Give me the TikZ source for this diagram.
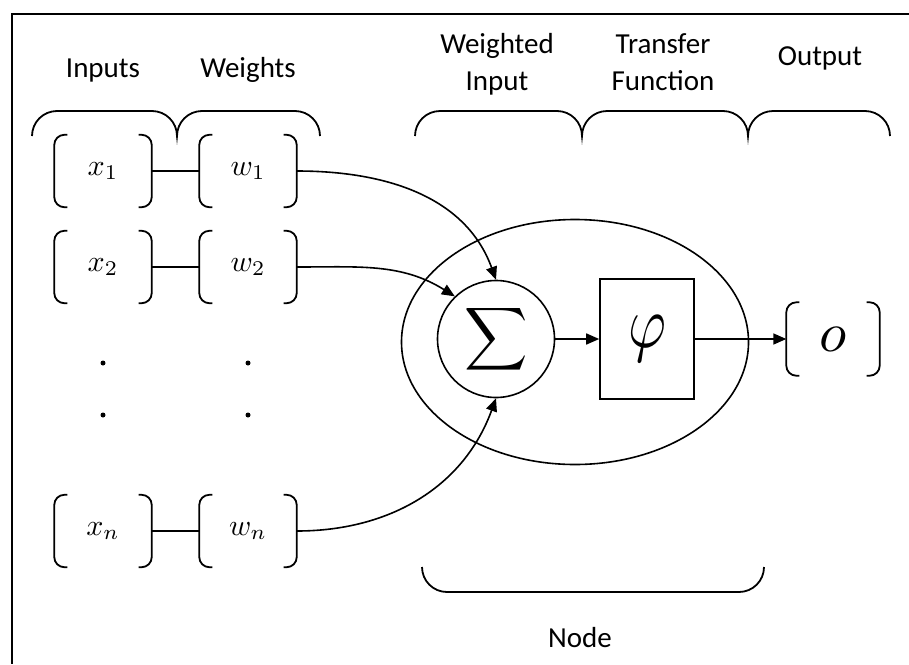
\documentclass[tikz,border=0pt]{standalone}
\usepackage{fontspec}
\setmainfont{Carlito}
\usetikzlibrary{shapes.geometric,arrows.meta}

\tikzset{
  lbl/.style={font=\fontsize{29}{37}\selectfont, align=center, anchor=base, inner sep=0pt},
  var/.style={minimum width=97pt, minimum height=72pt, inner sep=0pt, font=\normalsize},
  brk/.style={line width=1.8pt, rounded corners=10pt},
  brace/.style={line width=1.8pt},
  wire/.style={line width=1.6pt},
  arr/.style={line width=1.6pt, -{Triangle[length=13pt,width=11pt]}},
  dot/.style={circle, fill, inner sep=0pt, minimum size=5pt},
  unit/.style={draw, line width=1.6pt, inner sep=0pt, font=\normalsize},
}

% enlarged math symbol
\newcommand\mathbig[2][3]{\scalebox{#1}{$#2$}}

% a pair of round-cornered brackets around a node
\newcommand\bracketpair[1]{%
  \draw[brk] ([xshift=13pt]#1.north west) -- (#1.north west) -- (#1.south west) -- ([xshift=13pt]#1.south west);
  \draw[brk] ([xshift=-13pt]#1.north east) -- (#1.north east) -- (#1.south east) -- ([xshift=-13pt]#1.south east);
}

\begin{document}
\begin{tikzpicture}[x=1pt, y=1pt]
\useasboundingbox (0,0) rectangle (909,-664);

% frame
\draw[line width=2.2pt] (909,-14) -- (12,-14) -- (12,-664);

% column labels (two-line labels sit on the baseline of their last line)
\node[lbl] (linputs) at (103,-77) {Inputs};
\node[lbl] (lweights) at (248,-77) {Weights};
\node[lbl] (lwin) at (497,-90) {Weighted\\Input};
\node[lbl] (ltf) at (663,-90) {Transfer\\Function};
\node[lbl] (lout) at (820,-65) {Output};
\node[lbl] (lnode) at (580,-647) {Node};

% braces under the labels
\draw[brace] (32,-136) arc[start angle=180, end angle=90, radius=25] -- (152,-111)
  arc[start angle=90, end angle=0, radius=25] arc[start angle=180, end angle=90, radius=25]
  -- (295,-111) arc[start angle=90, end angle=0, radius=25];
\draw[brace] (415,-136) arc[start angle=180, end angle=90, radius=25] -- (557,-111)
  arc[start angle=90, end angle=0, radius=25] arc[start angle=180, end angle=90, radius=25]
  -- (723,-111) arc[start angle=90, end angle=0, radius=25] arc[start angle=180, end angle=90, radius=25]
  -- (865,-111) arc[start angle=90, end angle=0, radius=25];
\draw[brace] (422,-567) arc[start angle=180, end angle=270, radius=25] -- (739,-592)
  arc[start angle=270, end angle=360, radius=25];

% inputs and weights
\node[var] (x1) at (103,-171) {\mathbig{x_1}};
\node[var] (w1) at (248,-171) {\mathbig{w_1}};
\node[var] (x2) at (103,-267) {\mathbig{x_2}};
\node[var] (w2) at (248,-267) {\mathbig{w_2}};
\node[var] (xn) at (103,-531) {\mathbig{x_n}};
\node[var] (wn) at (248,-531) {\mathbig{w_n}};
\foreach \n in {x1,w1,x2,w2,xn,wn} {\bracketpair{\n}}
\draw[wire] (x1.east) -- (w1.west);
\draw[wire] (x2.east) -- (w2.west);
\draw[wire] (xn.east) -- (wn.west);

\node[dot] (dx1) at (103,-363) {};
\node[dot] (dx2) at (103,-415) {};
\node[dot] (dw1) at (248,-363) {};
\node[dot] (dw2) at (248,-415) {};

% the node: summation and transfer function
\node[unit, ellipse, minimum width=347pt, minimum height=245pt] (cell) at (575,-342) {};
\node[unit, circle, minimum size=117pt] (sum) at (496,-339) {\mathbig[4.4]{\displaystyle\sum}};
\node[unit, rectangle, minimum width=94pt, minimum height=120pt] (phi) at (647,-339) {\scalebox{5.8}[7.4]{$\varphi$}};
\node[var, minimum width=93pt, minimum height=73pt] (out) at (833,-339) {\mathbig[5.6]{o}};
\bracketpair{out}

% connections
\draw[arr] (w1.east) to[out=0, in=110] (sum.north);
\draw[arr] (w2.east) to[out=0, in=148] (sum.134);
\draw[arr] (wn.east) to[out=0, in=250] (sum.south);
\draw[arr] (sum.east) -- (phi.west);
\draw[arr] (phi.east) -- (out.west);
\end{tikzpicture}
\end{document}
